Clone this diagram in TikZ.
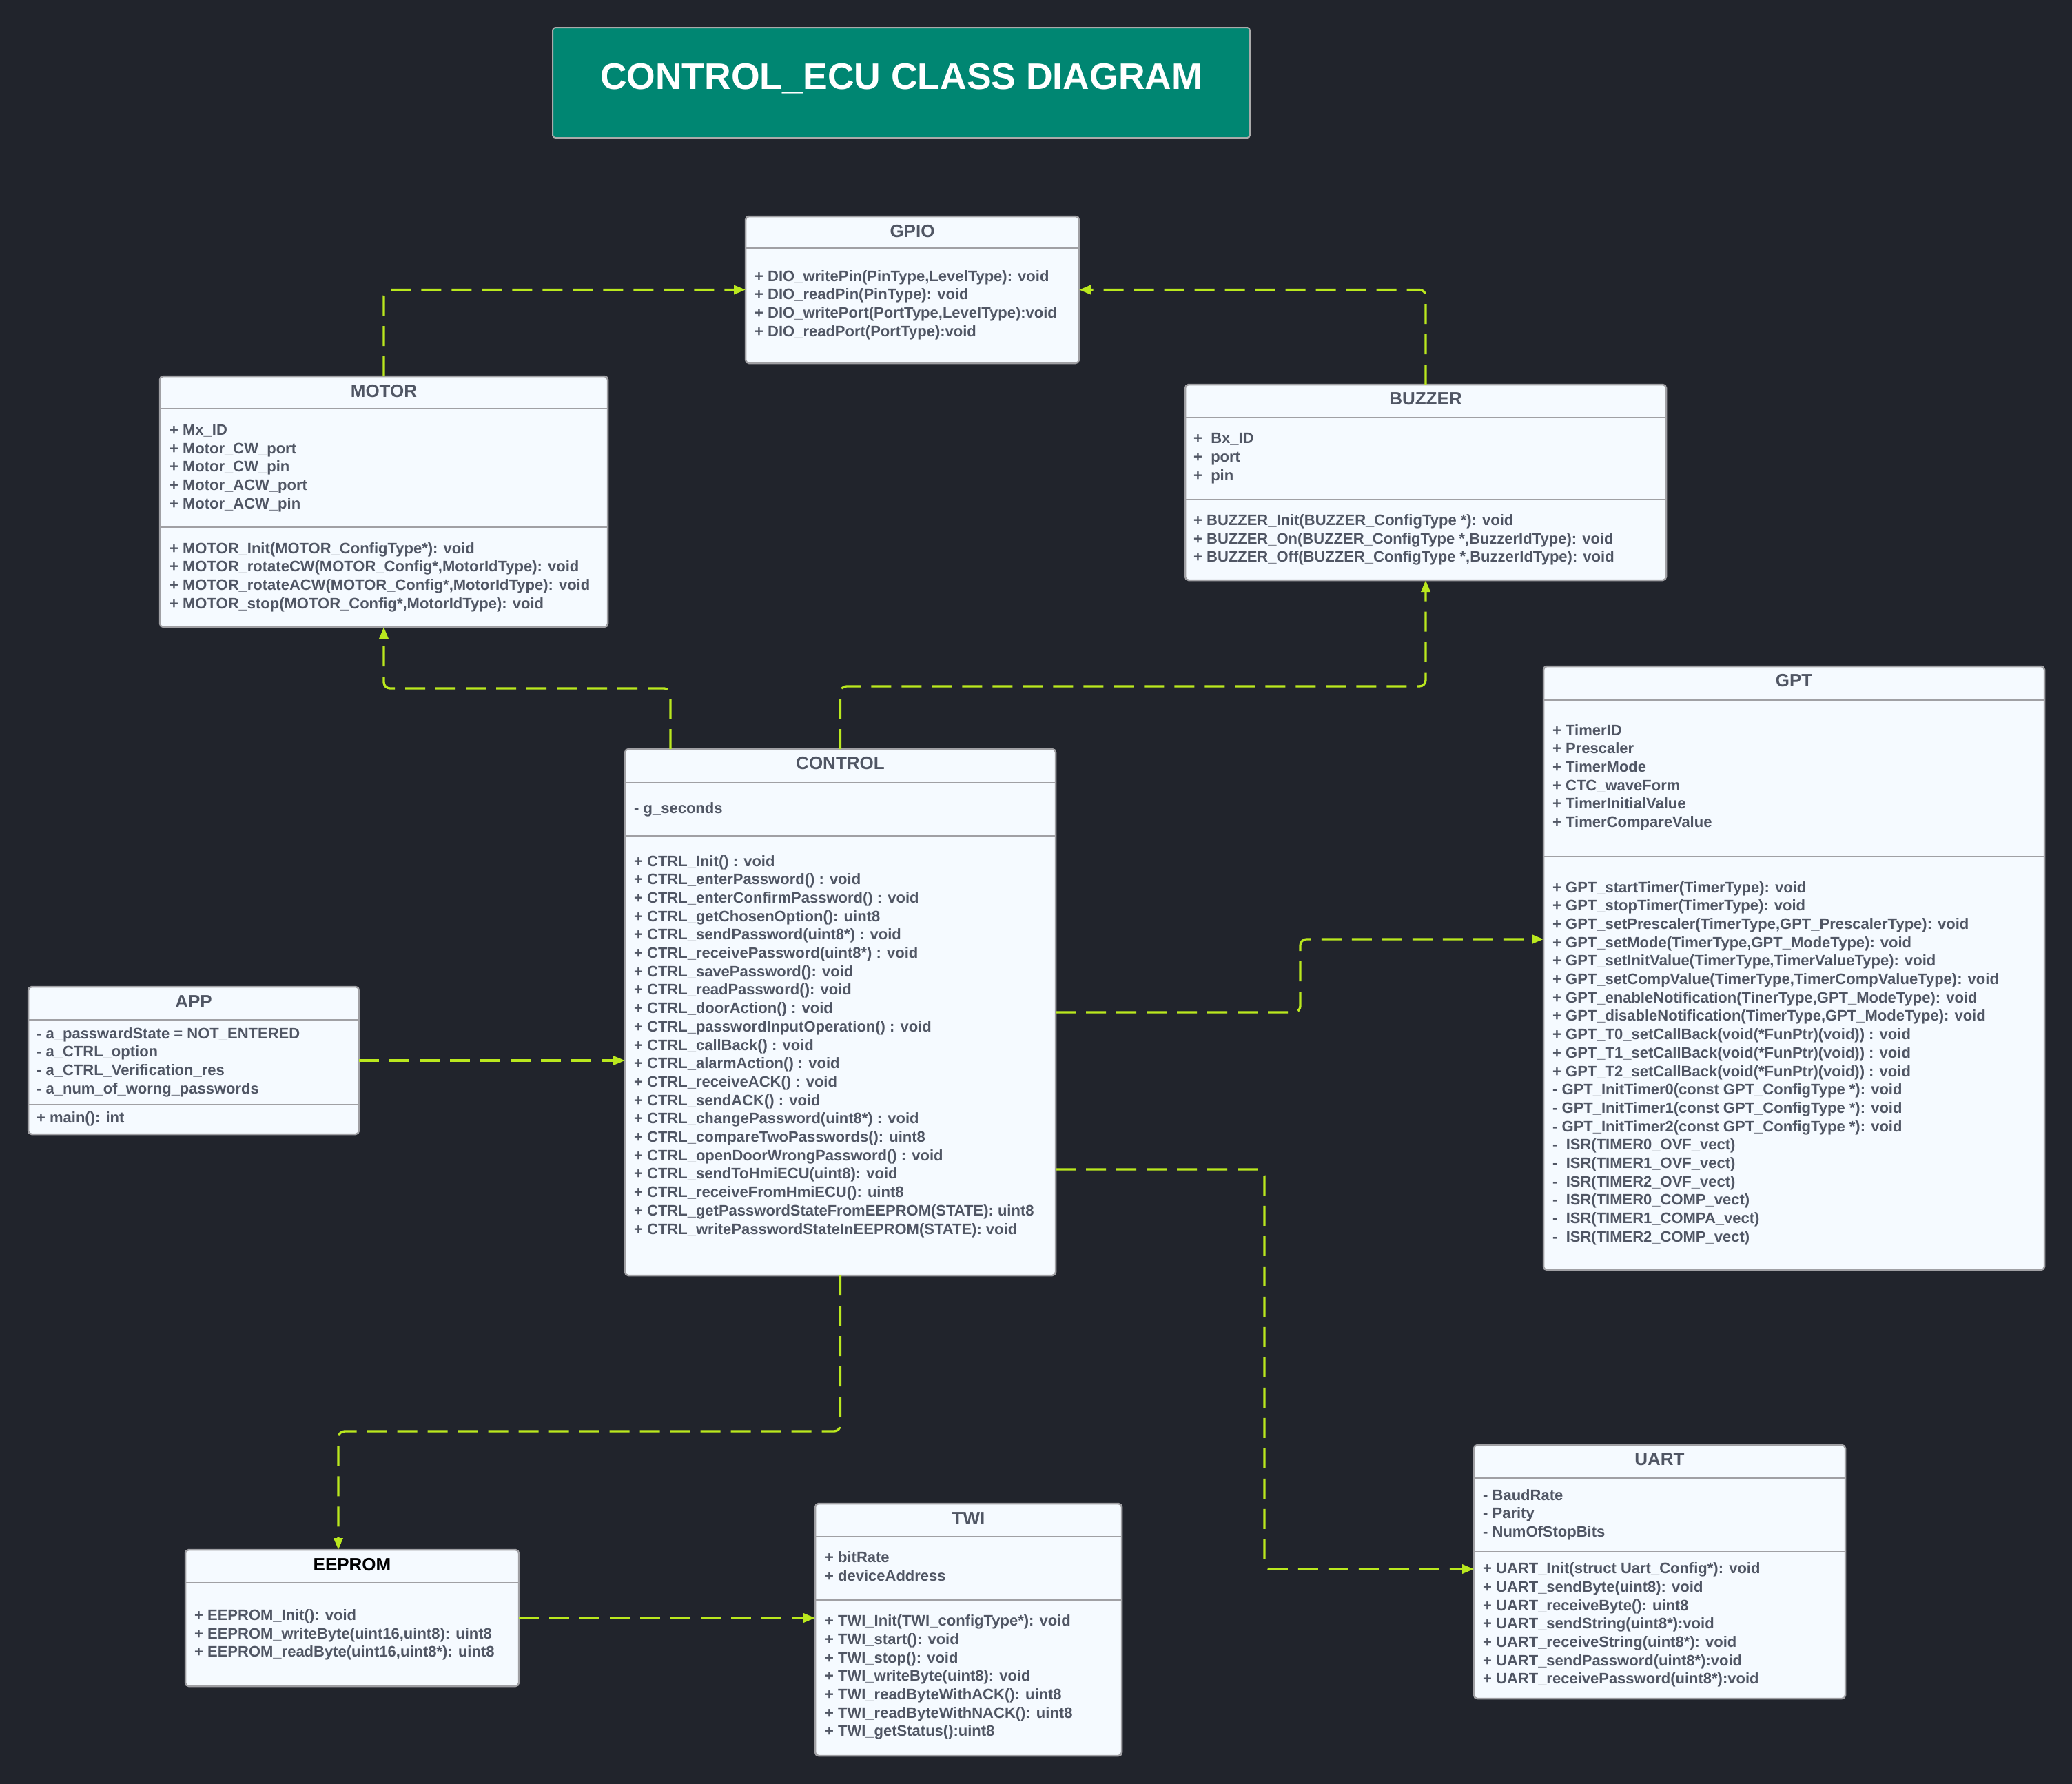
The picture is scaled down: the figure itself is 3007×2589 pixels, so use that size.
\documentclass[tikz,border=0pt]{standalone}
\usepackage{fontspec}
\setmainfont{Liberation Sans}
\usetikzlibrary{arrows.meta}
\definecolor{bgcol}{RGB}{33,36,44}
\definecolor{boxfill}{RGB}{245,250,255}
\definecolor{boxline}{RGB}{160,160,164}
\definecolor{txtgray}{RGB}{80,86,100}
\definecolor{depline}{RGB}{186,232,30}
\definecolor{tealbox}{RGB}{0,134,114}
\newcommand\umlbox[5]{%
  \node[cls, minimum width={#4-#2}, minimum height={#5-#3}] (#1) at ({(#2+#4)/2},{(#3+#5)/2}) {};}
\newcommand\umllines[4]{%
  \foreach \t [count=\i] in {#4}{\node[txt] (#1\i) at ({#2},{#3+(\i-1)*26.7}) {\t};}}
\newcommand\umlsep[2]{\draw[sepline] (#1.west |- 0,#2) -- (#1.east |- 0,#2);}
\begin{document}
\begin{tikzpicture}[x=1pt,y=-1pt,
  cls/.style={draw=boxline, fill=boxfill, line width=2.5pt, rounded corners=5pt, inner sep=0pt, outer sep=0pt},
  sepline/.style={draw=boxline, line width=2.5pt},
  txt/.style={anchor=base west, inner sep=0pt, text=txtgray, font=\fontsize{22}{26.7}\selectfont\bfseries},
  ttl/.style={anchor=base, inner sep=0pt, text=txtgray, font=\fontsize{26}{30}\selectfont\bfseries},
  dep/.style={draw=depline, line width=3.3pt, dash pattern=on 29pt off 15pt, rounded corners=9pt, -{Triangle[length=17pt,width=13pt]}}]
\path[use as bounding box, fill=bgcol] (0,0) rectangle (3007,2589);

% title
\node[draw={rgb,255:red,170;green,170;blue,170}, line width=2pt, fill=tealbox, rounded corners=4pt,
      minimum width=1012pt, minimum height=160pt, inner sep=0pt] (title) at (1308,120) {};
\node[anchor=base, inner sep=0pt, text=white, font=\fontsize{53.5}{60}\selectfont\bfseries] (titletext) at (1308,129) {CONTROL\_ECU CLASS DIAGRAM};

% boxes
\umlbox{gpio}{1082}{314}{1566}{527}
\umlbox{motor}{232}{546}{882}{910}
\umlbox{buzzer}{1720}{558}{2418}{842}
\umlbox{control}{907}{1087}{1532}{1851}
\umlbox{gpt}{2240}{967}{2967}{1843}
\umlbox{app}{41}{1432}{521}{1646}
\umlbox{eeprom}{269}{2249}{753}{2447}
\umlbox{twi}{1183}{2182}{1628}{2548}
\umlbox{uart}{2139}{2097}{2678}{2465}

% separators
\umlsep{gpio}{360}
\umlsep{motor}{593}\umlsep{motor}{765}
\umlsep{buzzer}{606}\umlsep{buzzer}{725}
\umlsep{control}{1136}\umlsep{control}{1213.5}
\umlsep{gpt}{1016}\umlsep{gpt}{1243}
\umlsep{app}{1480}\umlsep{app}{1603}
\umlsep{eeprom}{2297}
\umlsep{twi}{2230}\umlsep{twi}{2322}
\umlsep{uart}{2145}\umlsep{uart}{2252}

% GPIO
\node[ttl] (gpioT) at (1324,344.3) {GPIO};
\umllines{gpioM}{1095}{408}{{+ DIO\_writePin(PinType,LevelType): void},{+ DIO\_readPin(PinType): void},{+ DIO\_writePort(PortType,LevelType):void},{+ DIO\_readPort(PortType):void}}

% MOTOR
\node[ttl] (motorT) at (557,576.3) {MOTOR};
\umllines{motorA}{246}{631.3}{{+ Mx\_ID},{+ Motor\_CW\_port},{+ Motor\_CW\_pin},{+ Motor\_ACW\_port},{+ Motor\_ACW\_pin}}
\umllines{motorM}{246}{803}{{+ MOTOR\_Init(MOTOR\_ConfigType*): void},{+ MOTOR\_rotateCW(MOTOR\_Config*,MotorIdType): void},{+ MOTOR\_rotateACW(MOTOR\_Config*,MotorIdType): void},{+ MOTOR\_stop(MOTOR\_Config*,MotorIdType): void}}

% BUZZER
\node[ttl] (buzzerT) at (2069,587.3) {BUZZER};
\umllines{buzzerA}{1732}{643.7}{{+~~Bx\_ID},{+~~port},{+~~pin}}
\umllines{buzzerM}{1732}{762.3}{{+ BUZZER\_Init(BUZZER\_ConfigType *): void},{+ BUZZER\_On(BUZZER\_ConfigType *,BuzzerIdType): void},{+ BUZZER\_Off(BUZZER\_ConfigType *,BuzzerIdType): void}}

% CONTROL
\node[ttl] (controlT) at (1219.5,1116.3) {CONTROL};
\umllines{controlA}{920}{1180}{{- g\_seconds}}
\umllines{controlM}{920}{1257}{{+ CTRL\_Init() : void},{+ CTRL\_enterPassword() : void},{+ CTRL\_enterConfirmPassword() : void},{+ CTRL\_getChosenOption(): uint8},{+ CTRL\_sendPassword(uint8*) : void},{+ CTRL\_receivePassword(uint8*) : void},{+ CTRL\_savePassword(): void},{+ CTRL\_readPassword(): void},{+ CTRL\_doorAction() : void},{+ CTRL\_passwordInputOperation() : void},{+ CTRL\_callBack() : void},{+ CTRL\_alarmAction() : void},{+ CTRL\_receiveACK() : void},{+ CTRL\_sendACK() : void},{+ CTRL\_changePassword(uint8*) : void},{+ CTRL\_compareTwoPasswords(): uint8},{+ CTRL\_openDoorWrongPassword() : void},{+ CTRL\_sendToHmiECU(uint8): void},{+ CTRL\_receiveFromHmiECU(): uint8},{+ CTRL\_getPasswordStateFromEEPROM(STATE): uint8},{+ CTRL\_writePasswordStateInEEPROM(STATE): void}}

% GPT
\node[ttl] (gptT) at (2603.5,996.3) {GPT};
\umllines{gptA}{2253}{1067}{{+ TimerID},{+ Prescaler},{+ TimerMode},{+ CTC\_waveForm},{+ TimerInitialValue},{+ TimerCompareValue}}
\umllines{gptM}{2253}{1295}{{+ GPT\_startTimer(TimerType): void},{+ GPT\_stopTimer(TimerType): void},{+ GPT\_setPrescaler(TimerType,GPT\_PrescalerType): void},{+ GPT\_setMode(TimerType,GPT\_ModeType): void},{+ GPT\_setInitValue(TimerType,TimerValueType): void},{+ GPT\_setCompValue(TimerType,TimerCompValueType): void},{+ GPT\_enableNotification(TinerType,GPT\_ModeType): void},{+ GPT\_disableNotification(TimerType,GPT\_ModeType): void},{+ GPT\_T0\_setCallBack(void(*FunPtr)(void)) : void},{+ GPT\_T1\_setCallBack(void(*FunPtr)(void)) : void},{+ GPT\_T2\_setCallBack(void(*FunPtr)(void)) : void},{- GPT\_InitTimer0(const GPT\_ConfigType *): void},{- GPT\_InitTimer1(const GPT\_ConfigType *): void},{- GPT\_InitTimer2(const GPT\_ConfigType *): void},{-~~ISR(TIMER0\_OVF\_vect)},{-~~ISR(TIMER1\_OVF\_vect)},{-~~ISR(TIMER2\_OVF\_vect)},{-~~ISR(TIMER0\_COMP\_vect)},{-~~ISR(TIMER1\_COMPA\_vect)},{-~~ISR(TIMER2\_COMP\_vect)}}

% APP
\node[ttl] (appT) at (281,1462.3) {APP};
\umllines{appA}{53}{1507}{{- a\_passwardState = NOT\_ENTERED},{- a\_CTRL\_option},{- a\_CTRL\_Verification\_res},{- a\_num\_of\_worng\_passwords}}
\umllines{appM}{53}{1629.7}{{+ main(): int}}

% EEPROM
\node[ttl, text=black] (eepromT) at (511,2279) {EEPROM};
\umllines{eepromM}{282}{2351.3}{{+ EEPROM\_Init(): void},{+ EEPROM\_writeByte(uint16,uint8): uint8},{+ EEPROM\_readByte(uint16,uint8*): uint8}}

% TWI
\node[ttl] (twiT) at (1405.5,2212.3) {TWI};
\umllines{twiA}{1197}{2267.3}{{+ bitRate},{+ deviceAddress}}
\umllines{twiM}{1197}{2359.7}{{+ TWI\_Init(TWI\_configType*): void},{+ TWI\_start(): void},{+ TWI\_stop(): void},{+ TWI\_writeByte(uint8): void},{+ TWI\_readByteWithACK(): uint8},{+ TWI\_readByteWithNACK(): uint8},{+ TWI\_getStatus():uint8}}

% UART
\node[ttl] (uartT) at (2408.5,2126) {UART};
\umllines{uartA}{2152}{2177}{{- BaudRate},{- Parity},{- NumOfStopBits}}
\umllines{uartM}{2152}{2283.7}{{+ UART\_Init(struct Uart\_Config*): void},{+ UART\_sendByte(uint8): void},{+ UART\_receiveByte(): uint8},{+ UART\_sendString(uint8*):void},{+ UART\_receiveString(uint8*): void},{+ UART\_sendPassword(uint8*):void},{+ UART\_receivePassword(uint8*):void}}

% connectors
\draw[dep] (motor.north) |- (gpio.west);
\draw[dep] (buzzer.north) |- (gpio.east);
\coordinate (k1) at (973,999);
\draw[dep] (k1 |- control.north) -- (k1) -| (motor.south);
\coordinate (k2) at (1220,996);
\draw[dep] (control.north) -- (control.north |- k2) -| (buzzer.south);
\coordinate (k3) at (1887,1469);
\coordinate (k4) at (1887,1363);
\draw[dep] (k3 -| control.east) -- (k3) -- (k4) -- (k4 -| gpt.west);
\coordinate (k5) at (1835,1697);
\coordinate (k6) at (1835,2277);
\draw[dep] (k5 -| control.east) -- (k5) -- (k6) -- (k6 -| uart.west);
\draw[dep] (app.east) -- (app.east -| control.west);
\coordinate (k7) at (491,2077);
\draw[dep] (control.south) -- (control.south |- k7) -- (k7) -- (k7 |- eeprom.north);
\draw[dep] (eeprom.east) -- (eeprom.east -| twi.west);
\end{tikzpicture}
\end{document}
